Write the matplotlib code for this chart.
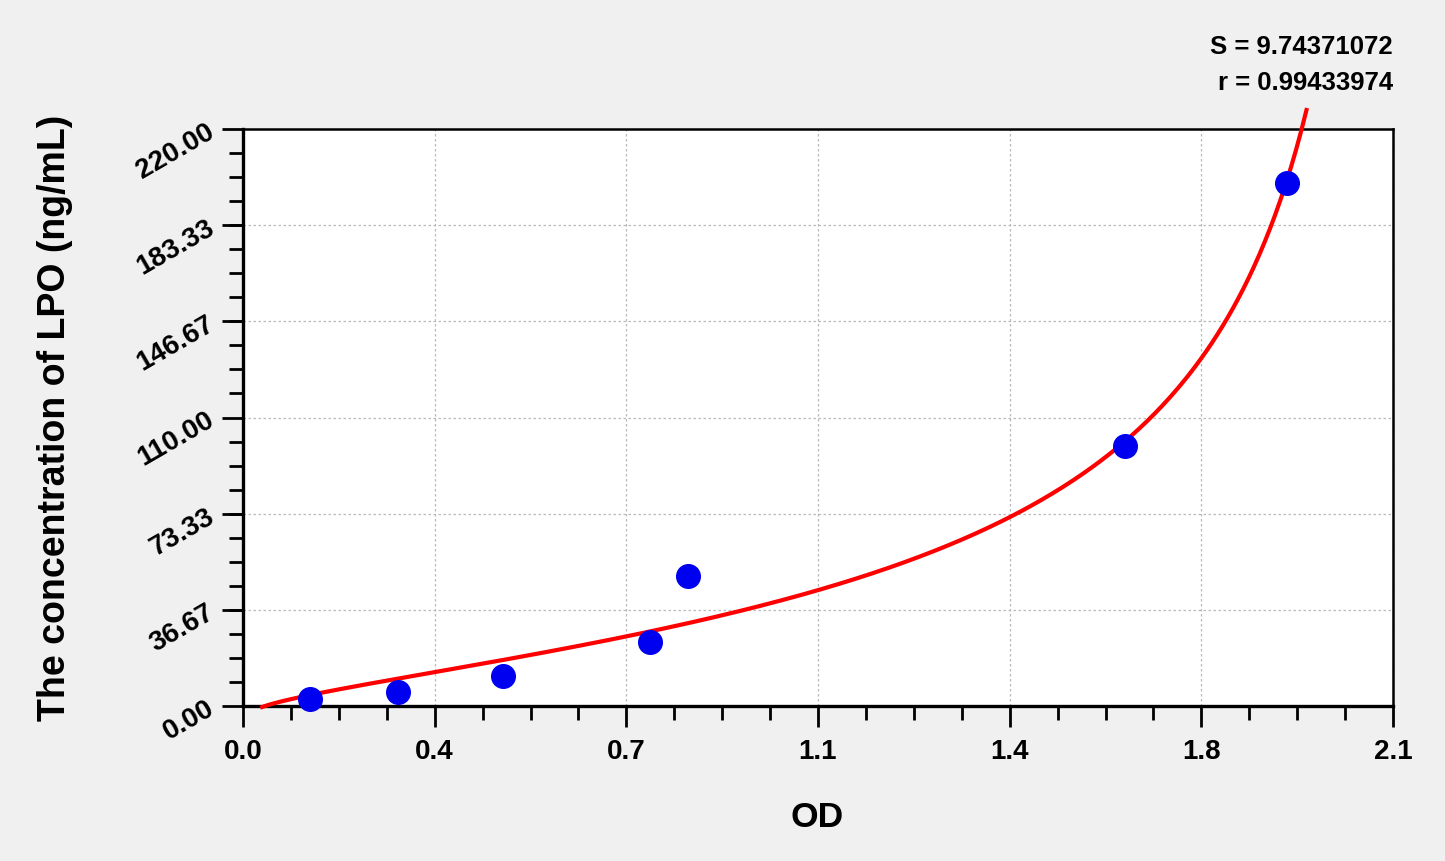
import numpy as np
import matplotlib
matplotlib.use("Agg")
import matplotlib.pyplot as plt

plt.rcParams["font.family"] = ["Liberation Sans", "DejaVu Sans"]
plt.rcParams["font.weight"] = "bold"

# standard points (OD, concentration)
od = [0.122, 0.283, 0.475, 0.743, 0.813, 1.611, 1.906]
conc = [2.7, 5.3, 11.4, 24.4, 49.6, 99.1, 199.4]

# fitted curve parameters (inverse 4PL style)
FIT_A, FIT_D, FIT_C, FIT_P, FIT_E = 0.025, 2.15, 48.0, 0.703, -1.5
fit_x0, fit_x1 = 0.035, 1.942

xticks = [0.0, 0.35, 0.70, 1.05, 1.40, 1.75, 2.10]
xtick_labels = ["0.0", "0.4", "0.7", "1.1", "1.4", "1.8", "2.1"]
yticks = [0.0, 36.67, 73.33, 110.0, 146.67, 183.33, 220.0]
ytick_labels = ["0.00", "36.67", "73.33", "110.00", "146.67", "183.33", "220.00"]

S_txt = "S = 9.74371072"
r_txt = "r = 0.99433974"

fig = plt.figure(figsize=(14.45, 8.62), dpi=100, facecolor="#f0f0f0")
ax = fig.add_axes([243/1445, 1-707/862, 1150/1445, 577/862])
ax.set_facecolor("white")

xx = np.linspace(fit_x0, fit_x1, 400)
yy = FIT_C * ((xx - FIT_A) / (FIT_D - xx)) ** FIT_P + FIT_E
ax.plot(xx, yy, color="#ff0000", lw=3.0, clip_on=False, zorder=3)
ax.plot(od, conc, "o", color="#0000f0", ms=17, mec="#0000f0", zorder=4, clip_on=False)

ax.set_xlim(0, 2.1); ax.set_ylim(0, 220)
ax.set_xticks(xticks); ax.set_xticklabels(xtick_labels, fontsize=20, fontweight="bold")
ax.set_xticks(np.arange(0, 2.1001, 0.0875), minor=True)
ax.set_yticks(yticks)
ax.set_yticklabels(ytick_labels, fontsize=20, fontweight="bold", rotation=30,
                   rotation_mode="anchor", ha="right", va="center")
ax.set_yticks(np.arange(0, 220.01, 220/24), minor=True)
ax.tick_params(which="major", direction="out", length=15, width=2, color="black", pad=8)
ax.tick_params(which="minor", direction="out", length=10, width=2, color="black")
ax.tick_params(axis="y", which="major", pad=7)
ax.grid(which="major", color="#b8b8b8", lw=0.9, linestyle=(0, (2, 2)))
ax.set_axisbelow(True)
for s in ["left", "bottom"]:
    ax.spines[s].set_linewidth(2.4)
for s in ["top", "right"]:
    ax.spines[s].set_linewidth(1.8)

fig.text(817/1445, 1-818/862, "OD", fontsize=25.5, fontweight="bold", ha="center", va="center")
fig.text(55/1445, 1-418/862, "The concentration of LPO (ng/mL)", fontsize=27,
         fontweight="bold", rotation=90, ha="center", va="center")
fig.text(1393/1445, 1-47/862, S_txt, fontsize=18.5, fontweight="bold", ha="right", va="center")
fig.text(1393/1445, 1-83/862, r_txt, fontsize=18.5, fontweight="bold", ha="right", va="center")

fig.savefig("out.png", dpi=100, facecolor=fig.get_facecolor())
